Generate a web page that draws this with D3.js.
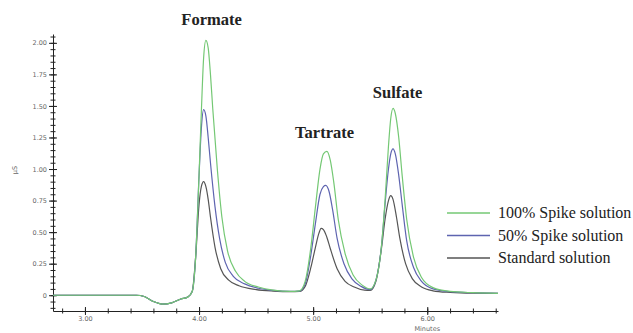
<!DOCTYPE html>
<html>
<head>
<meta charset="utf-8">
<script src="https://cdn.jsdelivr.net/npm/d3@7"></script>
<style>
  body { margin: 0; background: #fff; }
  svg { display: block; }
</style>
</head>
<body>
<div class="chrom-figure"></div>
<script>
// retention time (min) / conductivity (µS)
let timeGreen = [2.72, 3.45, 3.52, 3.60, 3.68, 3.76, 3.84, 3.90, 3.94, 3.97, 4.00, 4.02, 4.04, 4.06, 4.08, 4.10, 4.12, 4.16, 4.20, 4.25, 4.32, 4.40, 4.52, 4.65, 4.80, 4.88, 4.93, 4.98, 5.02, 5.06, 5.09, 5.12, 5.15, 5.18, 5.22, 5.28, 5.35, 5.43, 5.50, 5.55, 5.60, 5.63, 5.66, 5.68, 5.70, 5.72, 5.75, 5.78, 5.82, 5.88, 5.95, 6.05, 6.20, 6.40, 6.62];
let spike100 = [0, 0, -0.01, -0.05, -0.07, -0.06, -0.03, -0.015, 0.03, 0.3, 0.95, 1.45, 1.88, 2.02, 1.96, 1.75, 1.48, 1.0, 0.62, 0.35, 0.19, 0.11, 0.065, 0.04, 0.03, 0.035, 0.11, 0.38, 0.7, 1.0, 1.12, 1.14, 1.07, 0.9, 0.6, 0.33, 0.16, 0.08, 0.05, 0.12, 0.4, 0.75, 1.18, 1.4, 1.48, 1.44, 1.25, 0.95, 0.6, 0.3, 0.14, 0.06, 0.03, 0.02, 0.015];

let timeBlue = [2.72, 3.45, 3.52, 3.60, 3.68, 3.76, 3.84, 3.90, 3.94, 3.97, 4.00, 4.02, 4.04, 4.06, 4.08, 4.10, 4.14, 4.18, 4.23, 4.30, 4.40, 4.52, 4.65, 4.80, 4.88, 4.93, 4.98, 5.02, 5.06, 5.09, 5.11, 5.14, 5.17, 5.21, 5.27, 5.34, 5.42, 5.50, 5.55, 5.60, 5.63, 5.66, 5.68, 5.70, 5.72, 5.75, 5.78, 5.82, 5.88, 5.95, 6.05, 6.20, 6.40, 6.62];
let spike50 = [0, 0, -0.01, -0.05, -0.07, -0.06, -0.03, -0.015, 0.03, 0.3, 0.95, 1.32, 1.47, 1.42, 1.25, 1.05, 0.7, 0.45, 0.26, 0.15, 0.09, 0.055, 0.038, 0.03, 0.033, 0.09, 0.32, 0.57, 0.8, 0.86, 0.87, 0.82, 0.68, 0.45, 0.25, 0.13, 0.07, 0.045, 0.12, 0.4, 0.72, 1.0, 1.12, 1.16, 1.12, 0.95, 0.72, 0.43, 0.22, 0.11, 0.05, 0.028, 0.02, 0.015];

let timeBlack = [2.72, 3.45, 3.52, 3.60, 3.68, 3.76, 3.84, 3.90, 3.94, 3.97, 4.00, 4.02, 4.04, 4.06, 4.08, 4.10, 4.14, 4.19, 4.26, 4.35, 4.50, 4.65, 4.80, 4.88, 4.93, 4.98, 5.02, 5.05, 5.07, 5.09, 5.12, 5.15, 5.21, 5.28, 5.36, 5.45, 5.50, 5.55, 5.60, 5.63, 5.66, 5.68, 5.70, 5.73, 5.76, 5.81, 5.87, 5.95, 6.05, 6.20, 6.40, 6.62];
let standard = [0, 0, -0.01, -0.05, -0.07, -0.06, -0.03, -0.015, 0.03, 0.3, 0.72, 0.86, 0.9, 0.86, 0.76, 0.62, 0.38, 0.21, 0.12, 0.075, 0.045, 0.033, 0.028, 0.03, 0.07, 0.22, 0.38, 0.49, 0.53, 0.52, 0.46, 0.37, 0.21, 0.11, 0.065, 0.04, 0.038, 0.11, 0.38, 0.6, 0.75, 0.79, 0.76, 0.62, 0.45, 0.25, 0.13, 0.065, 0.035, 0.022, 0.016, 0.015];

let seriesNames = ["100% Spike solution", "50% Spike solution", "Standard solution"];
let seriesColors = ["#74c874", "#5e64b0", "#555555"];

let peakNames = ["Formate", "Tartrate", "Sulfate"];
let peakTimes = [4.11, 5.10, 5.74];
let peakLabelY = [2.14, 1.245, 1.56];

let xMajor = [3, 4, 5, 6];
let yMajor = [0, 0.25, 0.5, 0.75, 1.0, 1.25, 1.5, 1.75, 2.0];

let width = 633,
  height = 333;

let svg = d3.select(".chrom-figure")
    .append("svg")
    .attr("width", width)
    .attr("height", height);

let x = d3.scaleLinear()
    .domain([2.72, 6.62])
    .range([53, 498]);

let y = d3.scaleLinear()
    .domain([-0.125, 2.07])
    .range([311, 34]);

// axes -- ticks drawn across the line like the instrument software
let yMinor = d3.range(-0.1, 2.06, 0.05).map(d => +d.toFixed(2));
let gyMinor = svg.append("g")
    .attr("transform", "translate(" + x(2.72) + ",0)")
    .call(d3.axisLeft(y).tickValues(yMinor).tickSize(0).tickFormat(""));
gyMinor.select(".domain").remove();
gyMinor.selectAll(".tick line").attr("x1", -2.5).attr("x2", 2.5).attr("stroke", "#222");

let gy = svg.append("g")
    .attr("transform", "translate(" + x(2.72) + ",0)")
    .call(d3.axisLeft(y).tickValues(yMajor).tickSize(0).tickPadding(6)
        .tickFormat(d => d === 0 ? "0" : d.toFixed(2)));
gy.select(".domain").attr("stroke", "#222");
gy.selectAll(".tick line").attr("x1", -4).attr("x2", 4).attr("stroke", "#222");
gy.selectAll(".tick text").style("font-family", "DejaVu Sans").style("font-size", "6.5px").attr("fill", "#666");

let xMinor = d3.range(2.8, 6.61, 0.2).map(d => +d.toFixed(1));
let gxMinor = svg.append("g")
    .attr("transform", "translate(0," + y(-0.125) + ")")
    .call(d3.axisBottom(x).tickValues(xMinor).tickSize(0).tickFormat(""));
gxMinor.select(".domain").remove();
gxMinor.selectAll(".tick line").attr("y1", -2.5).attr("y2", 2.5).attr("stroke", "#222");

let gx = svg.append("g")
    .attr("transform", "translate(0," + y(-0.125) + ")")
    .call(d3.axisBottom(x).tickValues(xMajor).tickSize(0).tickPadding(5)
        .tickFormat(d => d.toFixed(2)));
gx.select(".domain").attr("stroke", "#222");
gx.selectAll(".tick line").attr("y1", -4).attr("y2", 4).attr("stroke", "#222");
gx.selectAll(".tick text").style("font-family", "DejaVu Sans").style("font-size", "6.5px").attr("fill", "#666");

svg.append("text")
    .attr("x", x(6.0)).attr("y", 331)
    .attr("text-anchor", "middle")
    .style("font-family", "DejaVu Sans").style("font-size", "6.5px")
    .attr("fill", "#666")
    .text("Minutes");

svg.append("text")
    .attr("transform", "translate(17,170) rotate(-90)")
    .attr("text-anchor", "middle")
    .style("font-family", "DejaVu Sans").style("font-size", "6.5px")
    .attr("fill", "#666")
    .text("µS");

// traces: standard first so the green one sits on top
let traces = [
    {name: seriesNames[2], color: seriesColors[2], t: timeBlack, v: standard},
    {name: seriesNames[1], color: seriesColors[1], t: timeBlue, v: spike50},
    {name: seriesNames[0], color: seriesColors[0], t: timeGreen, v: spike100}
];

let line = d3.line()
    .x(d => x(d[0]))
    .y(d => y(d[1]))
    .curve(d3.curveMonotoneX);

svg.selectAll(".trace")
    .data(traces)
    .enter()
    .append("path")
    .attr("class", "trace")
    .attr("fill", "none")
    .attr("stroke", d => d.color)
    .attr("stroke-width", 1.2)
    .attr("d", d => line(d.t.map((t, i) => [t, d.v[i]])));

// peak names
svg.selectAll(".peak")
    .data(peakNames)
    .enter()
    .append("text")
    .attr("class", "peak")
    .attr("x", (d, i) => x(peakTimes[i]))
    .attr("y", (d, i) => y(peakLabelY[i]))
    .attr("text-anchor", "middle")
    .style("font-family", "Liberation Serif")
    .style("font-weight", "bold")
    .style("font-size", "16.5px")
    .attr("fill", "#222")
    .text(d => d);

// legend
let legend = svg.selectAll(".legend")
    .data(seriesNames)
    .enter()
    .append("g")
    .attr("class", "legend")
    .attr("transform", (d, i) => "translate(447," + (213 + i * 22.5) + ")");

legend.append("line")
    .attr("x1", 0).attr("x2", 43)
    .attr("stroke", (d, i) => seriesColors[i])
    .attr("stroke-width", 1.5);

legend.append("text")
    .attr("x", 51).attr("y", 5)
    .style("font-family", "Liberation Serif")
    .style("font-size", "16px")
    .attr("fill", "#222")
    .text(d => d);
</script>
</body>
</html>
